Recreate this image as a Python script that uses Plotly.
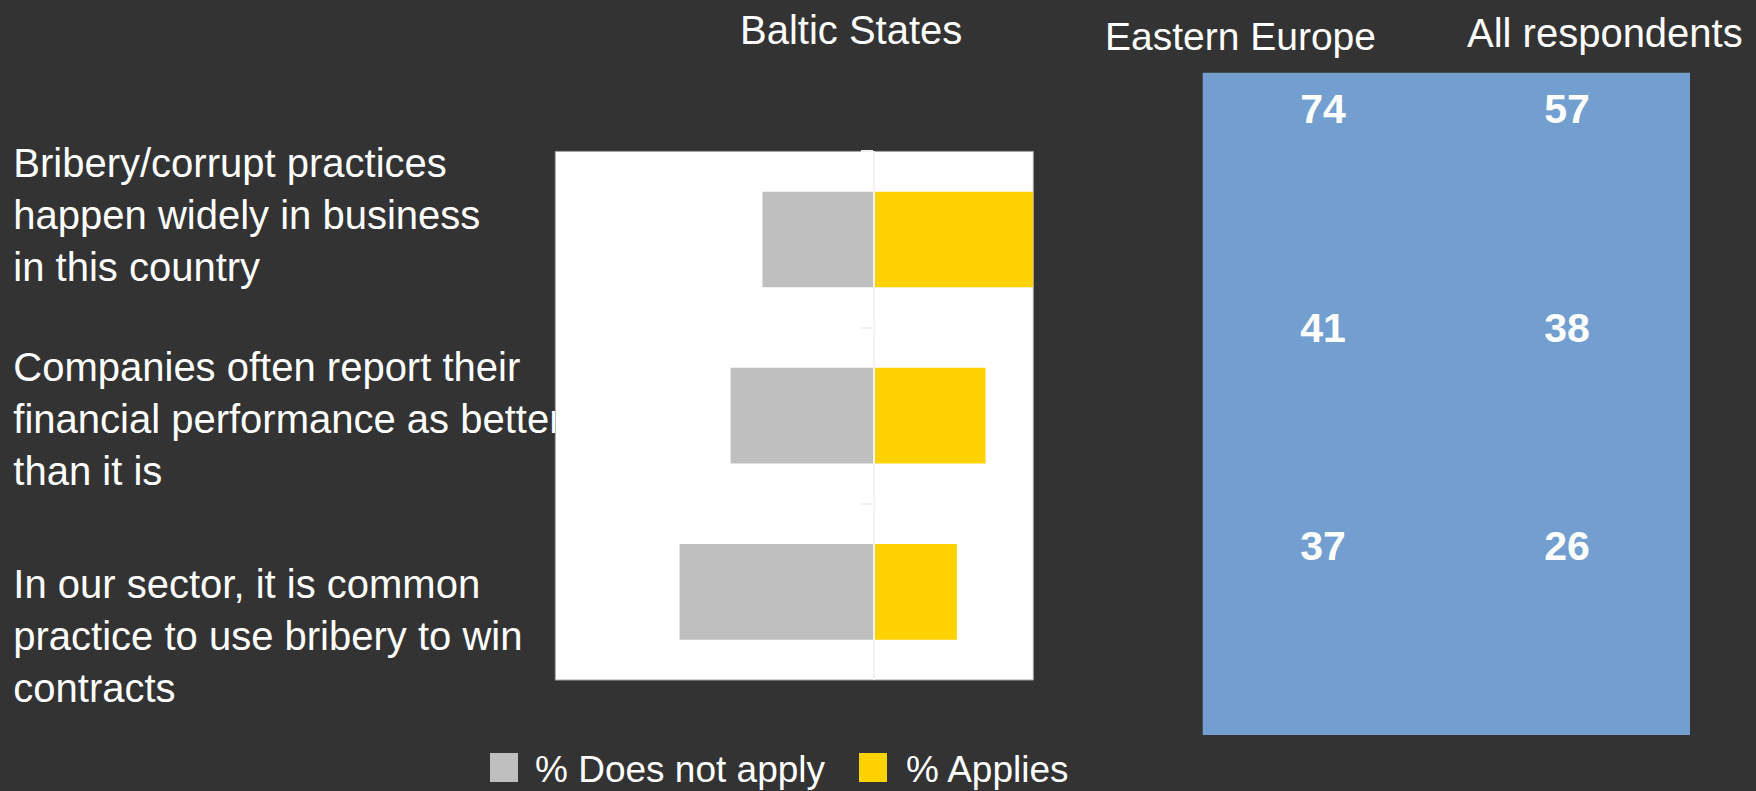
import plotly.graph_objects as go

# ---------------- data ----------------
statements = [
    "Bribery/corrupt practices happen widely in business in this country",
    "Companies often report their financial performance as better than it is",
    "In our sector, it is common practice to use bribery to win contracts",
]
statement_lines = [
    ["Bribery/corrupt practices", "happen widely in business", "in this country"],
    ["Companies often report their", "financial performance as better", "than it is"],
    ["In our sector, it is common", "practice to use bribery to win", "contracts"],
]
series_names = ["% Does not apply", "% Applies"]
baltic_does_not_apply = [35, 45, 61]
baltic_applies = [50, 35, 26]

region_columns = ["Eastern Europe", "All respondents"]
eastern_europe = [74, 41, 37]
all_respondents = [57, 38, 26]

chart_title = "Baltic States"

# ---------------- style ----------------
W, H = 1756, 791
BG = "#333333"
GREY = "#BFBFBF"
YELLOW = "#FFD200"
BLUE = "#729FCF"
FONT = "Liberation Sans, Arial, sans-serif"


def px_x(p):
    return p / W


def px_y(p):
    return 1 - p / H


fig = go.Figure()

# bars (diverging)
fig.add_trace(go.Bar(
    y=statements, x=[-v for v in baltic_does_not_apply], orientation="h",
    name=series_names[0], marker=dict(color=GREY, line=dict(width=0)),
    xaxis="x", yaxis="y", showlegend=False, hoverinfo="skip",
))
fig.add_trace(go.Bar(
    y=statements, x=baltic_applies, orientation="h",
    name=series_names[1], marker=dict(color=YELLOW, line=dict(width=0)),
    xaxis="x", yaxis="y", showlegend=False, hoverinfo="skip",
))

# statement labels (clipped by the plot area on their right)
label_mid_px = [219, 423, 640]
fig.add_trace(go.Scatter(
    x=[0.0] * len(statements), y=label_mid_px,
    mode="text", text=["<br>".join(l) for l in statement_lines],
    textposition="middle right",
    textfont=dict(family=FONT, size=40, color="white"),
    cliponaxis=True, xaxis="x2", yaxis="y2", showlegend=False, hoverinfo="skip",
))

# comparison table numbers
for col, vals in zip(region_columns, [eastern_europe, all_respondents]):
    fig.add_trace(go.Scatter(
        x=[col] * len(vals), y=statements, mode="text",
        text=[str(v) for v in vals], textposition="middle center",
        textfont=dict(family=FONT, size=41, color="white", weight="bold"),
        xaxis="x3", yaxis="y3", showlegend=False, hoverinfo="skip",
    ))

bar_dom_x = [px_x(555.3), px_x(1033.3)]
bar_dom_y = [px_y(680), px_y(151.4)]
tab_dom_x = [px_x(1202.7), px_x(1690)]
tab_dom_y = [px_y(735), px_y(72.7)]

fig.update_layout(
    width=W, height=H,
    margin=dict(l=0, r=0, t=0, b=0),
    paper_bgcolor=BG, plot_bgcolor="rgba(0,0,0,0)",
    barmode="relative", bargap=0.457,
    font=dict(family=FONT, color="white"),
    xaxis=dict(domain=bar_dom_x, range=[-100, 50], showgrid=False, zeroline=False,
               showticklabels=False, ticks="", showline=False, fixedrange=True),
    yaxis=dict(domain=bar_dom_y, anchor="free", position=px_x(874),
               categoryorder="array", categoryarray=statements, autorange="reversed",
               showgrid=False, zeroline=False, showticklabels=False,
               ticks="outside", tickson="boundaries", ticklen=12, tickwidth=2,
               tickcolor="#F2F2F2", showline=True, linecolor="#F2F2F2", linewidth=2),
    xaxis2=dict(domain=[0, bar_dom_x[0]], range=[-13.3, 555.3 - 13.3], visible=False,
                anchor="y2"),
    yaxis2=dict(domain=[0, 1], range=[H, 0], visible=False, anchor="x2"),
    xaxis3=dict(domain=tab_dom_x, range=[-0.493, 1.504], visible=False, anchor="y3",
                categoryorder="array", categoryarray=region_columns),
    yaxis3=dict(domain=tab_dom_y, range=[2.846, -0.185], visible=False, anchor="x3",
                categoryorder="array", categoryarray=statements),
)

shapes = [
    # white plot panel
    dict(type="rect", xref="x domain", yref="y domain", x0=0, x1=1, y0=0, y1=1,
         fillcolor="white", line=dict(color="#A6A6A6", width=1), layer="below"),
    # blue comparison panel
    dict(type="rect", xref="x3 domain", yref="y3 domain", x0=0, x1=1, y0=0, y1=1,
         fillcolor=BLUE, line=dict(width=0), layer="below"),
    # legend swatches
    dict(type="rect", xref="paper", yref="paper", x0=px_x(490), x1=px_x(518),
         y0=px_y(782), y1=px_y(753), fillcolor=GREY, line=dict(width=0)),
    dict(type="rect", xref="paper", yref="paper", x0=px_x(859), x1=px_x(887),
         y0=px_y(782), y1=px_y(753), fillcolor=YELLOW, line=dict(width=0)),
]
fig.update_layout(shapes=shapes)

annotations = [
    dict(text=chart_title, x=px_x(851), y=px_y(30), font=dict(size=40)),
    dict(text=region_columns[0], x=px_x(1240.5), y=px_y(36), font=dict(size=39)),
    dict(text=region_columns[1], x=px_x(1604.5), y=px_y(33), font=dict(size=40)),
    dict(text=series_names[0], x=px_x(533), y=px_y(769), xanchor="left", font=dict(size=37)),
    dict(text=series_names[1], x=px_x(904), y=px_y(769), xanchor="left", font=dict(size=37)),
]
for a in annotations:
    a.setdefault("xanchor", "center")
    a.update(xref="paper", yref="paper", yanchor="middle", showarrow=False)
    a["font"].update(family=FONT, color="white")
fig.update_layout(annotations=annotations)

fig.write_html(
    "out.html",
    config={"displayModeBar": False},
    post_script="document.body.style.margin='0';document.body.style.overflow='hidden';",
)
